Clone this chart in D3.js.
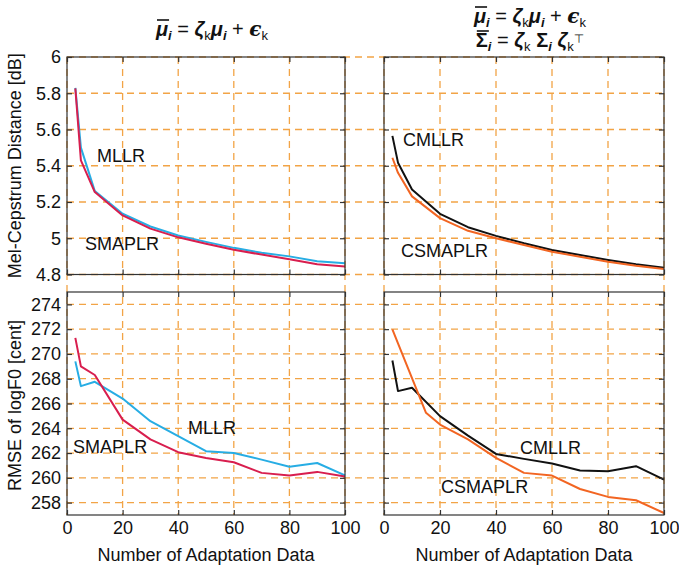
<!DOCTYPE html>
<html>
<head>
<meta charset="utf-8">
<script src="https://cdn.jsdelivr.net/npm/d3@7"></script>
<style>
  html, body { margin: 0; padding: 0; background: #fff; }
  svg { display: block; }
  text { font-family: "Liberation Sans", Arial, Helvetica, sans-serif; fill: #111; }
</style>
</head>
<body>
<script>
// Number of adaptation utterances (x values of every curve)
const nAdapt = [3, 5, 10, 20, 30, 40, 50, 60, 70, 80, 90, 100];
const nAdaptCsmaplrF0 = [3, 5, 10, 15, 20, 30, 40, 50, 60, 70, 80, 90, 100];

// Mel-cepstrum distance [dB]
const mcepMLLR    = [5.83, 5.50, 5.26, 5.135, 5.065, 5.015, 4.980, 4.947, 4.920, 4.900, 4.873, 4.862];
const mcepSMAPLR  = [5.827, 5.43, 5.255, 5.126, 5.053, 5.005, 4.970, 4.936, 4.910, 4.884, 4.857, 4.844];
const mcepCMLLR   = [5.565, 5.417, 5.269, 5.135, 5.061, 5.013, 4.972, 4.935, 4.907, 4.880, 4.856, 4.837];
const mcepCSMAPLR = [5.444, 5.361, 5.231, 5.111, 5.041, 5.000, 4.963, 4.926, 4.898, 4.870, 4.848, 4.830];

// RMSE of log F0 [cent]
const f0MLLR    = [269.4, 267.4, 267.75, 266.4, 264.57, 263.36, 262.15, 262.0, 261.47, 260.9, 261.2, 260.2];
const f0SMAPLR  = [271.3, 269.0, 268.3, 264.7, 263.1, 262.07, 261.6, 261.26, 260.4, 260.18, 260.48, 260.1];
const f0CMLLR   = [269.47, 267.0, 267.27, 264.98, 263.41, 261.93, 261.53, 261.15, 260.59, 260.53, 260.94, 259.86];
const f0CSMAPLR = [271.98, 270.86, 268.05, 265.25, 264.3, 263.1, 261.61, 260.4, 260.18, 259.1, 258.46, 258.19, 257.16];

// Axis ticks
const xTicks = [0, 20, 40, 60, 80, 100];
const mcepTicks = [4.8, 5, 5.2, 5.4, 5.6, 5.8, 6];
const f0Ticks = [258, 260, 262, 264, 266, 268, 270, 272, 274];

const W = 679, H = 568;
const svg = d3.select("body").append("svg").attr("width", W).attr("height", H);

const colL = [67, 345], colR = [384, 664];
const rowT = [57, 274.5], rowB = [292, 515];

const xL = d3.scaleLinear().domain([0, 100]).range(colL);
const xR = d3.scaleLinear().domain([0, 100]).range(colR);
const yT = d3.scaleLinear().domain([4.8, 6]).range([rowT[1], rowT[0]]);
const yB = d3.scaleLinear().domain([257, 275]).range([rowB[1], rowB[0]]);

const gridColor = "#f2a446";
const blue = "#27ade4", crimson = "#d81e4e", black = "#111111", orange = "#f26522";

// Dashed grid, drawn across the whole figure area
const grid = svg.append("g").attr("stroke", gridColor).attr("stroke-width", 1.3)
  .attr("stroke-dasharray", "7,5").attr("fill", "none");
[xL, xR].forEach(xs => {
  xTicks.forEach(t => {
    grid.append("line").attr("x1", xs(t)).attr("x2", xs(t)).attr("y1", rowT[0]).attr("y2", rowB[1]);
  });
});
mcepTicks.forEach(t => {
  grid.append("line").attr("x1", colL[0]).attr("x2", colR[1]).attr("y1", yT(t)).attr("y2", yT(t));
});
f0Ticks.forEach(t => {
  grid.append("line").attr("x1", colL[0]).attr("x2", colR[1]).attr("y1", yB(t)).attr("y2", yB(t));
});

const panels = [
  { x: xL, y: yT, yTicks: mcepTicks, showY: true,  showX: false,
    series: [
      { xs: nAdapt, ys: mcepMLLR, color: blue, name: "MLLR", lx: 10.8, ly: 5.421 },
      { xs: nAdapt, ys: mcepSMAPLR, color: crimson, name: "SMAPLR", lx: 6.5, ly: 4.935 }
    ] },
  { x: xR, y: yT, yTicks: mcepTicks, showY: false, showX: false,
    series: [
      { xs: nAdapt, ys: mcepCMLLR, color: black, name: "CMLLR", lx: 6.8, ly: 5.509 },
      { xs: nAdapt, ys: mcepCSMAPLR, color: orange, name: "CSMAPLR", lx: 6.1, ly: 4.897 }
    ] },
  { x: xL, y: yB, yTicks: f0Ticks, showY: true, showX: true,
    series: [
      { xs: nAdapt, ys: f0MLLR, color: blue, name: "MLLR", lx: 43.5, ly: 263.54 },
      { xs: nAdapt, ys: f0SMAPLR, color: crimson, name: "SMAPLR", lx: 2.2, ly: 262.0 }
    ] },
  { x: xR, y: yB, yTicks: f0Ticks, showY: false, showX: true,
    series: [
      { xs: nAdapt, ys: f0CMLLR, color: black, name: "CMLLR", lx: 48.6, ly: 261.92 },
      { xs: nAdaptCsmaplrF0, ys: f0CSMAPLR, color: orange, name: "CSMAPLR", lx: 20.4, ly: 258.78 }
    ] }
];

const fontPx = 18;

panels.forEach(p => {
  const [x0, x1] = p.x.range();
  const [y1, y0] = p.y.range();
  const g = svg.append("g");

  // curves
  p.series.forEach(s => {
    const pts = s.xs.map((v, i) => [v, s.ys[i]]);
    g.append("path")
      .attr("d", d3.line().x(d => p.x(d[0])).y(d => p.y(d[1]))(pts))
      .attr("fill", "none").attr("stroke", s.color).attr("stroke-width", 2)
      .attr("stroke-linejoin", "round");
    g.append("text").attr("x", p.x(s.lx)).attr("y", p.y(s.ly))
      .attr("font-size", fontPx).text(s.name);
  });

  // frame
  g.append("rect").attr("x", x0).attr("y", y0).attr("width", x1 - x0).attr("height", y1 - y0)
    .attr("fill", "none").attr("stroke", "#333").attr("stroke-width", 1.2);

  // inward ticks on all four sides
  const styleAxis = sel => {
    sel.select(".domain").remove();
    sel.selectAll(".tick line").attr("stroke", "#333").attr("stroke-width", 1.2);
    sel.selectAll(".tick text").attr("font-size", fontPx).attr("fill", "#111")
      .attr("font-family", "Liberation Sans, Arial, sans-serif");
  };
  g.append("g").attr("transform", `translate(0,${y1})`)
    .call(d3.axisBottom(p.x).tickValues(xTicks).tickSizeInner(-5).tickSizeOuter(0).tickPadding(6)
      .tickFormat(p.showX ? d3.format("d") : () => ""))
    .call(styleAxis);
  g.append("g").attr("transform", `translate(0,${y0})`)
    .call(d3.axisTop(p.x).tickValues(xTicks).tickSizeInner(-5).tickSizeOuter(0).tickFormat(() => ""))
    .call(styleAxis);
  g.append("g").attr("transform", `translate(${x0},0)`)
    .call(d3.axisLeft(p.y).tickValues(p.yTicks).tickSizeInner(-5).tickSizeOuter(0).tickPadding(6)
      .tickFormat(p.showY ? (d => d3.format("")(+d.toFixed(1))) : () => ""))
    .call(styleAxis);
  g.append("g").attr("transform", `translate(${x1},0)`)
    .call(d3.axisRight(p.y).tickValues(p.yTicks).tickSizeInner(-5).tickSizeOuter(0).tickFormat(() => ""))
    .call(styleAxis);

  if (p.showX) {
    svg.append("text").attr("x", (x0 + x1) / 2).attr("y", 561).attr("text-anchor", "middle")
      .attr("font-size", fontPx).text("Number of Adaptation Data");
  }
});

// y-axis titles
svg.append("text").attr("transform", `translate(21,${(rowT[0] + rowT[1]) / 2}) rotate(-90)`)
  .attr("text-anchor", "middle").attr("font-size", fontPx).text("Mel-Cepstrum Distance [dB]");
svg.append("text").attr("transform", `translate(21,${(rowB[0] + rowB[1]) / 2 + 2}) rotate(-90)`)
  .attr("text-anchor", "middle").attr("font-size", fontPx).text("RMSE of logF0 [cent]");

// Equation titles: one text element per block, one anchored chunk per line
const mathFont = "Liberation Serif, DejaVu Serif, serif";
function equation(x, lines) {
  const t = svg.append("text").attr("text-anchor", "middle")
    .attr("font-family", mathFont).attr("font-size", 20).style("white-space", "pre");
  const starts = [];
  let count = 0;
  lines.forEach(line => {
    starts.push(count);
    let shift = 0;
    line.parts.forEach((pt, k) => {
      const target = pt.sub ? 4 : pt.sup ? -4.5 : 0;
      const ts = t.append("tspan").text(pt.s);
      if (k === 0) ts.attr("x", x).attr("y", line.y);
      else ts.attr("dy", target - shift);
      shift = target;
      if (pt.sub) ts.attr("font-size", 13);
      if (pt.sup) ts.attr("font-size", 12);
      if (pt.b) ts.attr("font-weight", "bold");
      if (pt.i) ts.attr("font-style", "italic");
      if (pt.f) ts.attr("font-family", pt.f);
      count += pt.s.length;
    });
  });
  // bar over the first symbol of every line
  starts.forEach(idx => {
    const e = t.node().getExtentOfChar(idx);
    svg.append("line").attr("x1", e.x + 1).attr("x2", e.x + e.width + 1)
      .attr("y1", e.y + 2).attr("y2", e.y + 2).attr("stroke", "#111").attr("stroke-width", 1.6);
  });
  return t;
}
const muLine = [
  { s: "μ", b: 1, i: 1 }, { s: "i", b: 1, i: 1, sub: 1 },
  { s: " = " },
  { s: "ζ", b: 1, i: 1 }, { s: "k", sub: 1 },
  { s: "μ", b: 1, i: 1 }, { s: "i", b: 1, i: 1, sub: 1 },
  { s: " + " },
  { s: "ϵ", b: 1, i: 1, f: "DejaVu Serif" }, { s: "k", sub: 1 }
];
const sigmaLine = [
  { s: "Σ", b: 1 }, { s: "i", b: 1, i: 1, sub: 1 },
  { s: " = " },
  { s: "ζ", b: 1, i: 1 }, { s: "k", sub: 1 }, { s: " " },
  { s: "Σ", b: 1 }, { s: "i", b: 1, i: 1, sub: 1 }, { s: " " },
  { s: "ζ", b: 1, i: 1 }, { s: "k", sub: 1 }, { s: "⊤", sup: 1, f: "DejaVu Sans" }
];
equation(212, [{ y: 36, parts: muLine }]);
equation(530, [{ y: 23, parts: muLine }, { y: 47, parts: sigmaLine }]);
</script>
</body>
</html>
